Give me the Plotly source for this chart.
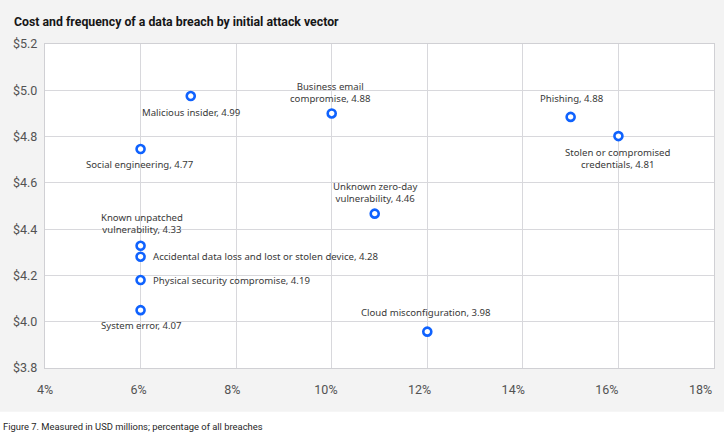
import plotly.graph_objects as go

# ---- data ----
vectors = [
    "Malicious insider",
    "Business email<br>compromise",
    "Social engineering",
    "Unknown zero-day<br>vulnerability",
    "Cloud misconfiguration",
    "Phishing",
    "Stolen or compromised<br>credentials",
    "Known unpatched<br>vulnerability",
    "Accidental data loss and lost or stolen device",
    "Physical security compromise",
    "System error",
]
frequency_pct = [7.05, 10.0, 6.0, 10.9, 12.0, 15.0, 16.0, 6.0, 6.0, 6.0, 6.0]
cost_plotted = [4.975, 4.90, 4.746, 4.467, 3.957, 4.885, 4.802, 4.328, 4.281, 4.18, 4.05]
cost_label = [4.99, 4.88, 4.77, 4.46, 3.98, 4.88, 4.81, 4.33, 4.28, 4.19, 4.07]

x_ticks = [4, 6, 8, 10, 12, 14, 16, 18]
x_tick_text = ["4%", "6%", "8%", "10%", "12%", "14%", "16%", "18%"]
y_ticks = [3.8, 4.0, 4.2, 4.4, 4.6, 4.8, 5.0, 5.2]
y_tick_text = ["$3.8", "$4.0", "$4.2", "$4.4", "$4.6", "$4.8", "$5.0", "$5.2"]

# ---- label placement style: (anchor, dx px, dy px below point) ----
label_style = [
    ("center", 0, 16), ("center", -1.5, -21), ("center", -0.5, 15), ("center", 0, -21.5),
    ("center", -1.5, -19.5), ("center", 1, -18), ("center", -1, 22), ("center", 1, -22.5),
    ("left", 10, 0), ("left", 10, 0), ("center", 1, 15),
]

FONT = "Roboto, 'Noto Sans', sans-serif"
LABEL_FONT = "'Noto Sans', Roboto, sans-serif"
BLUE = "#0f62fe"

fig = go.Figure()
fig.add_trace(go.Scatter(
    x=frequency_pct, y=cost_plotted, mode="markers",
    marker=dict(size=8, color="white", line=dict(color=BLUE, width=2.6)),
    hoverinfo="skip", showlegend=False,
))
# empty trace that only carries the tick-label axis
fig.add_trace(go.Scatter(x=[], y=[], xaxis="x2", showlegend=False, hoverinfo="skip"))

for name, xv, yv, lab, (anc, dx, dy) in zip(vectors, frequency_pct, cost_plotted, cost_label, label_style):
    fig.add_annotation(
        x=xv, y=yv, xref="x", yref="y", text=f"{name}, {lab:.2f}", showarrow=False,
        font=dict(family=LABEL_FONT, size=9.6, color="#393939"), align="center",
        xanchor=anc, yanchor="middle", xshift=dx, yshift=-dy,
    )

# title
fig.add_annotation(text="<b>Cost and frequency of a data breach by initial attack vector</b>",
                   xref="paper", yref="paper", x=-0.049, y=1.068, xanchor="left", yanchor="middle",
                   showarrow=False, font=dict(family=FONT, size=12.3, color="#161616"))
# white strip at bottom
fig.add_shape(type="rect", xref="paper", yref="paper", x0=-0.1, x1=1.1, y0=-0.135, y1=-0.3,
              fillcolor="white", line=dict(width=0), layer="below")
# caption
fig.add_annotation(text="Figure 7. Measured in USD millions; percentage of all breaches",
                   xref="paper", yref="paper", x=-0.066, y=-0.182, xanchor="left", yanchor="middle",
                   showarrow=False, font=dict(family="'Liberation Sans Narrow', Roboto, sans-serif",
                                              size=9.4, color="#262626"))

TICKFONT = dict(family=FONT, size=12.5, color="#525252")
fig.update_layout(
    width=724, height=438,
    margin=dict(l=45, r=10, t=44, b=70),
    paper_bgcolor="#f3f3f3", plot_bgcolor="white",
    font=dict(family=FONT),
    xaxis=dict(range=[4, 18], tickvals=x_ticks, showticklabels=False,
               showgrid=True, gridcolor="#d8d8dc", gridwidth=1.3, zeroline=False,
               showline=True, linecolor="#d0d0d4", linewidth=1.3, mirror=True, ticks=""),
    xaxis2=dict(overlaying="x", anchor="y", side="bottom", range=[4, 18.288],
                tickvals=x_ticks, ticktext=x_tick_text, showgrid=False, zeroline=False,
                showline=False, ticks="", ticklabelstandoff=12, tickfont=TICKFONT),
    yaxis=dict(range=[3.8, 5.2], tickvals=y_ticks, ticktext=y_tick_text,
               showgrid=True, gridcolor="#d8d8dc", gridwidth=1.3, zeroline=False,
               showline=True, linecolor="#d0d0d4", linewidth=1.3, mirror=True, ticks="",
               ticklabelstandoff=4, tickfont=TICKFONT),
)

fig.write_html("out.html", config={"displayModeBar": False},
               post_script="document.body.style.margin='0';document.body.style.overflow='hidden';")
